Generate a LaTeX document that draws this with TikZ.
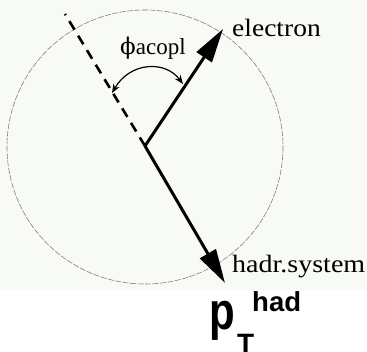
\documentclass[tikz,border=0pt]{standalone}
\usepackage{fontspec}
\setmainfont{Liberation Serif}
\newfontfamily\helv{Liberation Sans}
\newfontfamily\grk{DejaVu Serif}
\usetikzlibrary{arrows.meta}
\definecolor{bgpale}{RGB}{247,250,245}
\tikzset{
  vec/.style={line width=3pt, -{Triangle[length=34pt,width=18pt]}},
  guide/.style={line width=2.6pt, dash pattern=on 10pt off 7pt},
  anglearc/.style={line width=1.2pt, {Stealth[length=9pt,width=7pt]}-{Stealth[length=9pt,width=7pt]}},
  ring/.style={gray, line width=0.6pt, dash pattern=on 6pt off 1.5pt},
  lbl/.style={inner sep=0pt, anchor=base west, font=\fontsize{25}{30}\selectfont}
}
\begin{document}
\begin{tikzpicture}[x=1pt,y=-1pt]
\useasboundingbox (0,0) rectangle (367,352);
\fill[white] (0,0) rectangle (367,352);
\fill[bgpale] (0,0) rectangle (367,290);
% circle
\draw[ring] (145,147) ellipse [x radius=138, y radius=137];
\coordinate (O) at (145,146);
\coordinate (E) at (223,29);
\coordinate (H) at (225,283);
\coordinate (D) at (65,14);
\coordinate (A1) at (183,84);
\coordinate (A2) at (112,93);
\draw[guide] (O) -- (D);
\draw[vec] (O) -- (E);
\draw[vec] (O) -- (H);
\draw[anglearc] (A1) .. controls (165,60) and (130,62) .. (A2);
% labels
\node[lbl, xscale=1.1] (el) at (232,37) {electron};
\node[lbl, xscale=1.12] (hs) at (232,273) {hadr.system};
\node[inner sep=0pt, anchor=base west] (phi) at (120,55) {{\grk\fontsize{23}{26}\selectfont ϕ}\fontsize{23}{26}\selectfont acopl};
\node[inner sep=0pt, anchor=base west, yscale=1.25] (p) at (209,330) {\helv\bfseries\fontsize{42}{48}\selectfont p};
\node[inner sep=0pt, anchor=base west] (T) at (237,354) {\helv\bfseries\fontsize{28}{32}\selectfont T};
\node[inner sep=0pt, anchor=base west] (had) at (252,312) {\helv\bfseries\fontsize{27.5}{32}\selectfont had};
\end{tikzpicture}
\end{document}
